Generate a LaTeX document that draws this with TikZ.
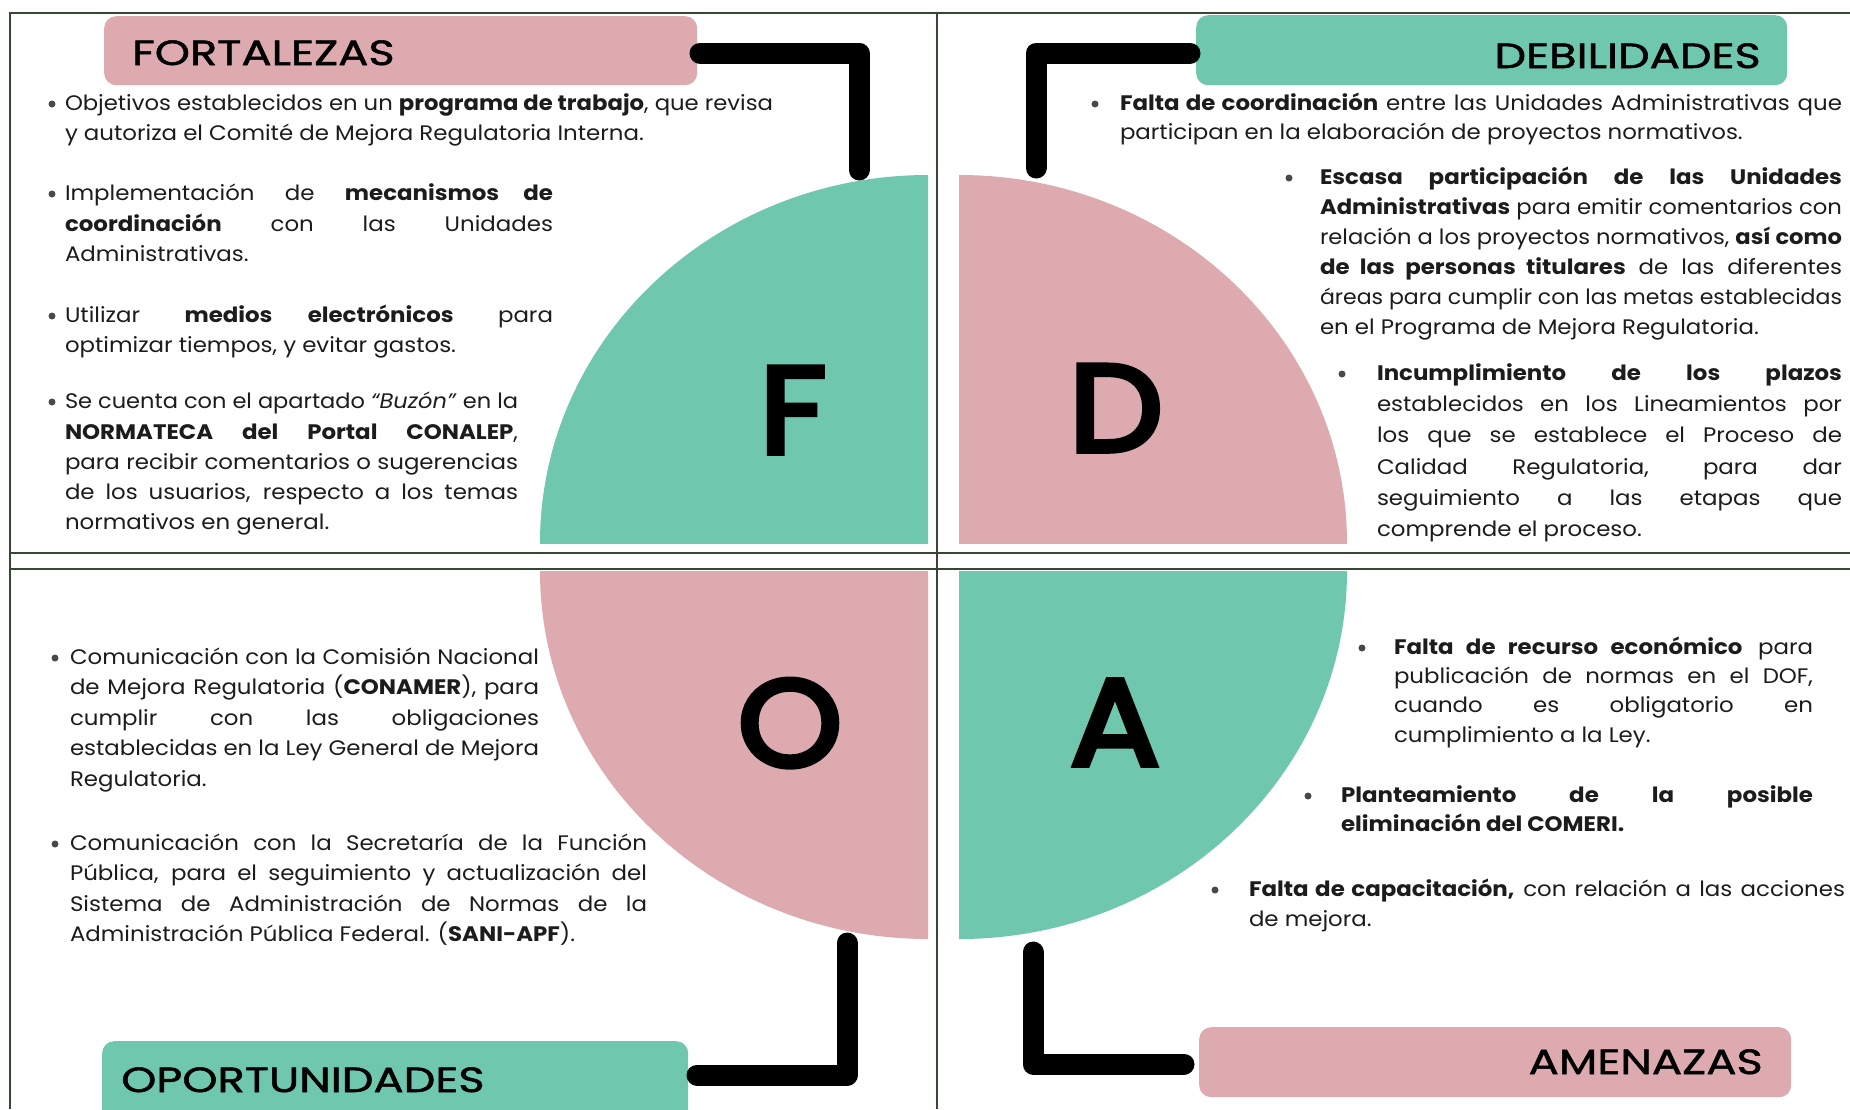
\documentclass[tikz,border=0pt]{standalone}
\usepackage{graphicx}
\usepackage{fontspec}
\setmainfont{Poppins}[FakeStretch=1.09]
\newfontfamily\titlefont{Poppins}[FakeStretch=1.28, FakeBold=1.5]
\newfontfamily\bigfont{Poppins}[FakeStretch=1.08, FakeBold=4.5]
\definecolor{tealc}{RGB}{111,199,174}
\definecolor{pinkc}{RGB}{221,170,175}
\definecolor{linec}{RGB}{52,72,52}
\definecolor{inkc}{RGB}{28,28,28}
\newsavebox\fodabox
\newcommand\fodafit[2]{\sbox\fodabox{#2}\ifdim\wd\fodabox>#1\resizebox{#1}{\height}{\usebox\fodabox}\else\makebox[#1][s]{#2}\fi}
\newcommand\fodaJ[5]{\node[txt] (#1) at (#2,#3) {\fodafit{#4pt}{#5}};}
\newcommand\fodaN[4]{\node[txt] (#1) at (#2,#3) {#4};}
\newcommand\fodaB[3]{\node[bdot] (#1) at (#2,#3-6) {};}
\begin{document}
\begin{tikzpicture}[x=1pt,y=-1pt,
  txt/.style={anchor=base west, inner sep=0pt, outer sep=0pt, text=inkc, font=\fontsize{21}{25}\selectfont},
  bdot/.style={circle, fill=inkc!80, minimum size=7pt, inner sep=0pt},
  brk/.style={line width=21pt, line cap=round, line join=round, draw=black},
  titlebox/.style={rectangle, rounded corners=12pt, inner sep=0pt, anchor=north west},
  title/.style={inner sep=0pt, text=black, font=\titlefont\fontsize{35}{40}\selectfont},
  big/.style={anchor=base, inner sep=0pt, text=black, font=\bigfont\fontsize{123}{123}\selectfont},
  frame/.style={draw=linec, line width=2.5pt},
]
\clip (0,0) rectangle (1850,1109);
\fill[white] (0,0) rectangle (1850,1109);

% quarter discs
\begin{scope}\clip (540,170) rectangle (928,543); \fill[tealc] (928,543) ellipse [x radius=388, y radius=368]; \end{scope}
\begin{scope}\clip (959,170) rectangle (1347,543); \fill[pinkc] (959,543) ellipse [x radius=388, y radius=368]; \end{scope}
\begin{scope}\clip (540,571) rectangle (928,940); \fill[pinkc] (928,571) ellipse [x radius=388, y radius=368]; \end{scope}
\begin{scope}\clip (959,571) rectangle (1347,940); \fill[tealc] (959,571) ellipse [x radius=388, y radius=368]; \end{scope}

% frame lines
\draw[frame] (10,1109) -- (10,13) -- (1850,13);
\draw[frame] (937,13) -- (937,1109);
\draw[frame] (10,553) -- (1850,553);
\draw[frame] (10,569) -- (1850,569);

% big letters
\node[big] (LF) at (793,453) {F};
\node[big] (LD) at (1116,451) {D};
\node[big] (LO) at (790,766) {O};
\node[big] (LA) at (1115,765) {A};

% title boxes
\node[titlebox, fill=pinkc, minimum width=593pt, minimum height=69pt] (fbox) at (104,16) {};
\node[title, anchor=base west] (ftitle) at (132,65) {FORTALEZAS};
\node[titlebox, fill=tealc, minimum width=591pt, minimum height=70pt] (dbox) at (1196,15) {};
\node[title, anchor=base east] (dtitle) at (1761,68) {DEBILIDADES};
\node[titlebox, fill=tealc, minimum width=586pt, minimum height=90pt] (obox) at (102,1041) {};
\node[title, anchor=base west] (otitle) at (121,1092) {OPORTUNIDADES};
\node[titlebox, fill=pinkc, minimum width=592pt, minimum height=70pt] (abox) at (1199,1027) {};
\node[title, anchor=base east] (atitle) at (1763,1074) {AMENAZAS};

% brackets
\coordinate (f1) at (700,53); \coordinate (f2) at (859,53); \coordinate (f3) at (859,170);
\draw[brk] (f1) -- (f2) -- (f3);
\coordinate (d1) at (1190,53); \coordinate (d2) at (1036,53); \coordinate (d3) at (1036,168);
\draw[brk] (d1) -- (d2) -- (d3);
\coordinate (o1) at (847,943); \coordinate (o2) at (847,1075); \coordinate (o3) at (697,1075);
\draw[brk] (o1) -- (o2) -- (o3);
\coordinate (a1) at (1033,952); \coordinate (a2) at (1033,1064); \coordinate (a3) at (1184,1064);
\draw[brk] (a1) -- (a2) -- (a3);

% FORTALEZAS text
\fodaB{fb1}{52}{110}
\fodaJ{f11}{65}{110}{708}{Objetivos establecidos en un \textbf{programa de trabajo}, que revisa}
\fodaN{f12}{65}{140}{y autoriza el Comité de Mejora Regulatoria Interna.}
\fodaB{fb2}{52}{200}
\fodaJ{f21}{65}{200}{488}{Implementación de \textbf{mecanismos de}}
\fodaJ{f22}{65}{231}{488}{\textbf{coordinación} con las Unidades}
\fodaN{f23}{65}{261}{Administrativas.}
\fodaB{fb3}{52}{322}
\fodaJ{f31}{65}{322}{488}{Utilizar \textbf{medios electrónicos} para}
\fodaN{f32}{65}{352}{optimizar tiempos, y evitar gastos.}
\fodaB{fb4}{52}{408}
\fodaJ{f41}{65}{408}{453}{Se cuenta con el apartado \textit{“Buzón”} en la}
\fodaJ{f42}{65}{439}{453}{\textbf{NORMATECA del Portal CONALEP},}
\fodaJ{f43}{65}{469}{453}{para recibir comentarios o sugerencias}
\fodaJ{f44}{65}{499}{453}{de los usuarios, respecto a los temas}
\fodaN{f45}{65}{529}{normativos en general.}

% DEBILIDADES text
\fodaB{db1}{1095}{110}
\fodaJ{d11}{1120}{110}{722}{\textbf{Falta de coordinación} entre las Unidades Administrativas que}
\fodaN{d12}{1120}{139}{participan en la elaboración de proyectos normativos.}
\fodaB{db2}{1289}{184}
\fodaJ{d21}{1320}{184}{522}{\textbf{Escasa participación de las Unidades}}
\fodaJ{d22}{1320}{214}{522}{\textbf{Administrativas} para emitir comentarios con}
\fodaJ{d23}{1320}{244}{522}{relación a los proyectos normativos, \textbf{así como}}
\fodaJ{d24}{1320}{274}{522}{\textbf{de las personas titulares} de las diferentes}
\fodaJ{d25}{1320}{304}{522}{áreas para cumplir con las metas establecidas}
\fodaN{d26}{1320}{334}{en el Programa de Mejora Regulatoria.}
\fodaB{db3}{1342}{380}
\fodaJ{d31}{1377}{380}{465}{\textbf{Incumplimiento de los plazos}}
\fodaJ{d32}{1377}{411}{465}{establecidos en los Lineamientos por}
\fodaJ{d33}{1377}{442}{465}{los que se establece el Proceso de}
\fodaJ{d34}{1377}{474}{465}{Calidad Regulatoria, para dar}
\fodaJ{d35}{1377}{505}{465}{seguimiento a las etapas que}
\fodaN{d36}{1377}{536}{comprende el proceso.}

% OPORTUNIDADES text
\fodaB{ob1}{55}{664}
\fodaJ{o11}{70}{664}{469}{Comunicación con la Comisión Nacional}
\fodaJ{o12}{70}{694}{469}{de Mejora Regulatoria (\textbf{CONAMER}), para}
\fodaJ{o13}{70}{725}{469}{cumplir con las obligaciones}
\fodaJ{o14}{70}{755}{469}{establecidas en la Ley General de Mejora}
\fodaN{o15}{70}{786}{Regulatoria.}
\fodaB{ob2}{55}{850}
\fodaJ{o21}{70}{850}{577}{Comunicación con la Secretaría de la Función}
\fodaJ{o22}{70}{880}{577}{Pública, para el seguimiento y actualización del}
\fodaJ{o23}{70}{911}{577}{Sistema de Administración de Normas de la}
\fodaN{o24}{70}{941}{Administración Pública Federal. (\textbf{SANI-APF}).}

% AMENAZAS text
\fodaB{ab1}{1362}{654}
\fodaJ{a11}{1394}{654}{419}{\textbf{Falta de recurso económico} para}
\fodaJ{a12}{1394}{683}{419}{publicación de normas en el DOF,}
\fodaJ{a13}{1394}{712}{419}{cuando es obligatorio en}
\fodaN{a14}{1394}{742}{cumplimiento a la Ley.}
\fodaB{ab2}{1308}{802}
\fodaJ{a21}{1341}{802}{472}{\textbf{Planteamiento de la posible}}
\fodaN{a22}{1341}{831}{\textbf{eliminación del COMERI.}}
\fodaB{ab3}{1215}{896}
\fodaJ{a31}{1249}{896}{596}{\textbf{Falta de capacitación,} con relación a las acciones}
\fodaN{a32}{1249}{926}{de mejora.}
\end{tikzpicture}
\end{document}
